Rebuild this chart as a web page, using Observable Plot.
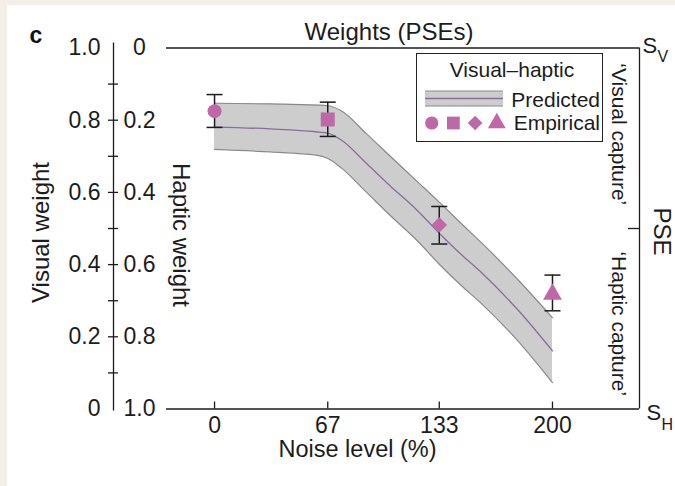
<!DOCTYPE html>
<html>
<head>
<meta charset="utf-8">
<script src="https://cdn.jsdelivr.net/npm/d3@7"></script>
<script src="https://cdn.jsdelivr.net/npm/@observablehq/plot@0.6"></script>
<style>
  html, body { margin: 0; padding: 0; background: #f3efe8; }
  #panel { position: absolute; left: 7px; top: 5px; width: 668px; height: 481px; background: #fff; overflow: hidden; }
  #legend { position: absolute; left: 409px; top: 48px; width: 187px; height: 89px; box-sizing: border-box; border: 1px solid #222; background: #fff; }
  #legend svg { position: absolute; left: -1px; top: -1px; overflow: visible; }
</style>
</head>
<body>
<div id="panel"><div id="legend"></div></div>
<script>
// Predicted visual weight: mean and band across noise levels
const noise     = [0, 33, 60, 67, 75, 90, 104, 120, 133, 146, 157, 180, 200];
const predMean  = [0.781, 0.776, 0.768, 0.764, 0.745, 0.680, 0.618, 0.550, 0.487, 0.428, 0.382, 0.272, 0.161];
const predUpper = [0.847, 0.845, 0.842, 0.840, 0.826, 0.762, 0.700, 0.630, 0.573, 0.514, 0.465, 0.356, 0.253];
const predLower = [0.719, 0.712, 0.703, 0.694, 0.668, 0.600, 0.536, 0.466, 0.401, 0.342, 0.296, 0.186, 0.073];

// Empirical visual weights with error bars
const empNoise  = [0, 67, 133, 200];
const empWeight = [0.825, 0.802, 0.510, 0.318];
const empLow    = [0.780, 0.755, 0.457, 0.272];
const empHigh   = [0.871, 0.850, 0.561, 0.371];
const empSymbol = ["circle", "square", "diamond2", "triangle"];

// Axis ticks and labels
const noiseTicks   = [0, 67, 133, 200];
const weightLabels = [0, 0.2, 0.4, 0.6, 0.8, 1.0];
const weightTicks  = [0.1, 0.2, 0.3, 0.4, 0.5, 0.6, 0.7, 0.8, 0.9];
const pseTick      = [0.5];

const predicted = noise.map((n, i) => ({noise: n, mean: predMean[i], hi: predUpper[i], lo: predLower[i]}));
const empirical = empNoise.map((n, i) => ({noise: n, weight: empWeight[i], low: empLow[i], high: empHigh[i], symbol: empSymbol[i]}));

const W = 668, H = 481;
const mLeft = 106, mRight = 36, mTop = 42.5, mBottom = 77.5;
const xDomain = [-59.8, 251.5];

const ink = "#1c1c1c";
const pink = "#bf68a7";
const bandFill = "#cdcdcd";
const bandEdge = "#8a8a8a";
const meanColor = "#8a6d9c";
const curve = "monotone-x";
const fmt = v => (Math.abs(v) < 1e-9 ? "0" : v.toFixed(1));

// horizontal error-bar cap
const cap = {draw(ctx, size) { const w = Math.sqrt(size / Math.PI); ctx.moveTo(-w, 0); ctx.lineTo(w, 0); }};

const chart = Plot.plot({
  width: W, height: H,
  marginLeft: mLeft, marginRight: mRight, marginTop: mTop, marginBottom: mBottom,
  style: {fontFamily: "'Liberation Sans', Arial, Helvetica, sans-serif", fontSize: "23px", color: ink, background: "transparent"},
  x: {domain: xDomain},
  y: {domain: [0, 1]},
  r: {type: "identity"},
  marks: [
    // frame: top, bottom, right
    Plot.ruleY([0, 1], {insetLeft: 53, stroke: ink, strokeWidth: 1.3}),
    Plot.ruleX([xDomain[1]], {stroke: ink, strokeWidth: 1.3}),
    // left weight axis line
    Plot.ruleX([xDomain[0]], {stroke: ink, strokeWidth: 1.3, insetTop: -5, insetBottom: -2}),
    Plot.axisY(weightTicks, {anchor: "left", tickSize: 10, dx: 5, tickFormat: () => "", stroke: ink, strokeWidth: 1.3, label: null}),
    Plot.axisY(weightLabels, {anchor: "left", tickSize: 0, tickPadding: 13, tickFormat: fmt, fontSize: 23, fill: ink, label: null}),
    Plot.axisY(weightLabels, {anchor: "left", tickSize: 0, tickPadding: 0, dx: 26, textAnchor: "middle", tickFormat: d => fmt(1 - d), fontSize: 23, fill: ink, label: null}),
    // PSE tick on the right
    Plot.axisY(pseTick, {anchor: "right", tickSize: 12, dx: -12, tickFormat: () => "", stroke: ink, strokeWidth: 1.3, label: null}),
    // noise axis
    Plot.axisX(noiseTicks, {anchor: "bottom", tickSize: 7, dy: -7, tickPadding: 8, tickFormat: d => String(d), fontSize: 23, stroke: ink, fill: ink, strokeWidth: 1.3, label: null}),

    // predicted band
    Plot.areaY(predicted, {x: "noise", y1: "lo", y2: "hi", fill: bandFill, curve}),
    Plot.lineY(predicted, {x: "noise", y: "hi", stroke: bandEdge, strokeWidth: 1.2, curve}),
    Plot.lineY(predicted, {x: "noise", y: "lo", stroke: bandEdge, strokeWidth: 1.2, curve}),
    Plot.lineY(predicted, {x: "noise", y: "mean", stroke: meanColor, strokeWidth: 1.3, curve}),

    // empirical error bars and markers
    Plot.ruleX(empirical, {x: "noise", y1: "low", y2: "high", stroke: ink, strokeWidth: 1.5}),
    Plot.dot(empirical, {x: "noise", y: "low", symbol: cap, r: 8, stroke: ink, strokeWidth: 1.5, fill: "none"}),
    Plot.dot(empirical, {x: "noise", y: "high", symbol: cap, r: 8, stroke: ink, strokeWidth: 1.5, fill: "none"}),
    Plot.dot(empirical, {x: "noise", y: "weight", symbol: "symbol", r: d => d.symbol === "square" ? 7.9 : 7, fill: pink, stroke: "none"}),

    // titles and annotations
    Plot.text(["c"], {frameAnchor: "top-left", textAnchor: "middle", dx: -77.5, dy: -21, fontSize: 23, fontWeight: 900, fill: "#111"}),
    Plot.text(["Weights (PSEs)"], {frameAnchor: "top", textAnchor: "middle", dx: 12.5, dy: -25, fontSize: 24, fill: ink}),
    Plot.text(["Visual weight"], {frameAnchor: "left", textAnchor: "middle", dx: -72, dy: 4, rotate: -90, fontSize: 24, fill: ink}),
    Plot.text(["Haptic weight"], {frameAnchor: "left", textAnchor: "middle", dx: 67, dy: 6.5, rotate: 90, fontSize: 24, fill: ink}),
    Plot.text(["Noise level (%)"], {frameAnchor: "bottom", textAnchor: "middle", dx: -19, dy: 48, fontSize: 23.5, fill: ink}),
    Plot.text([0.5], {y: d => d, text: () => "PSE", frameAnchor: "right", textAnchor: "middle", dx: 22, dy: 3, rotate: 90, fontSize: 24, fill: ink}),
    Plot.text([0.75], {y: d => d, text: () => "\u2018Visual capture\u2019", frameAnchor: "right", textAnchor: "middle", dx: -21, dy: -4, rotate: 90, fontSize: 21, fill: ink}),
    Plot.text([0.25], {y: d => d, text: () => "\u2018Haptic capture\u2019", frameAnchor: "right", textAnchor: "middle", dx: -21, dy: 5, rotate: 90, fontSize: 21, fill: ink}),
    Plot.text([1], {y: d => d, text: () => "S", frameAnchor: "right", textAnchor: "start", dx: 3, dy: -2.5, fontSize: 22, fill: ink}),
    Plot.text([1], {y: d => d, text: () => "V", frameAnchor: "right", textAnchor: "start", dx: 18, dy: 8.5, fontSize: 16, fill: ink}),
    Plot.text([0], {y: d => d, text: () => "S", frameAnchor: "right", textAnchor: "start", dx: 7, dy: 4, fontSize: 22, fill: ink}),
    Plot.text([0], {y: d => d, text: () => "H", frameAnchor: "right", textAnchor: "start", dx: 22, dy: 15.5, fontSize: 16, fill: ink})
  ]
});
const panel = document.getElementById("panel");
panel.insertBefore(chart, panel.firstChild);

// legend box
const lg = d3.select("#legend").append("svg").attr("width", 187).attr("height", 89)
  .style("font-family", "'Liberation Sans', Arial, Helvetica, sans-serif").style("fill", ink);
lg.append("text").attr("x", 96).attr("y", 17).attr("dy", "0.35em").attr("text-anchor", "middle").attr("font-size", 21).text("Visual\u2013haptic");
lg.append("rect").attr("x", 9).attr("y", 38).attr("width", 78).attr("height", 15).attr("fill", bandFill);
lg.append("line").attr("x1", 9).attr("x2", 87).attr("y1", 38).attr("y2", 38).attr("stroke", bandEdge).attr("stroke-width", 1.2);
lg.append("line").attr("x1", 9).attr("x2", 87).attr("y1", 53).attr("y2", 53).attr("stroke", bandEdge).attr("stroke-width", 1.2);
lg.append("line").attr("x1", 9).attr("x2", 87).attr("y1", 45.5).attr("y2", 45.5).attr("stroke", meanColor).attr("stroke-width", 1.3);
lg.append("text").attr("x", 184).attr("y", 47).attr("dy", "0.35em").attr("text-anchor", "end").attr("font-size", 21).text("Predicted");
const legendSymbols = [d3.symbolCircle, d3.symbolSquare, d3.symbolDiamond2, d3.symbolTriangle];
legendSymbols.forEach((s, i) => {
  lg.append("path").attr("transform", `translate(${15.7 + i * 21.7},70)`)
    .attr("d", d3.symbol(s, Math.PI * (s === d3.symbolSquare ? 7.2 : 6.6) ** 2)()).attr("fill", pink);
});
lg.append("text").attr("x", 184).attr("y", 70).attr("dy", "0.35em").attr("text-anchor", "end").attr("font-size", 21).text("Empirical");
</script>
</body>
</html>
